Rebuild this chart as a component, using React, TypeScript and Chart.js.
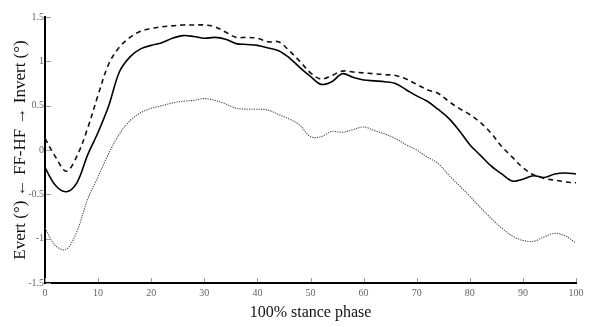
import React, { useEffect, useRef } from "react";
import { Chart, registerables } from "chart.js";

Chart.register(...registerables);

const stancePercent = [
  0, 2, 4, 6, 8, 10, 12, 14, 16, 18, 20, 22, 24, 26, 28, 30, 32, 34, 36, 38, 40,
  42, 44, 46, 48, 50, 52, 54, 56, 58, 60, 62, 64, 66, 68, 70, 72, 74, 76, 78, 80,
  82, 84, 86, 88, 90, 92, 94, 96, 98, 100,
];

const meanValues = [
  -0.2, -0.4, -0.47, -0.37, -0.06, 0.2, 0.5, 0.88, 1.05, 1.14, 1.18, 1.21, 1.26,
  1.29, 1.28, 1.26, 1.27, 1.25, 1.2, 1.19, 1.18, 1.15, 1.12, 1.04, 0.93, 0.83,
  0.74, 0.77, 0.86, 0.82, 0.79, 0.78, 0.77, 0.75, 0.68, 0.61, 0.55, 0.46, 0.36,
  0.22, 0.06, -0.06, -0.18, -0.27, -0.35, -0.33, -0.29, -0.31, -0.27, -0.26, -0.27,
];

const upperValues = [
  0.13, -0.08, -0.24, -0.07, 0.24, 0.62, 0.97, 1.16, 1.27, 1.34, 1.37, 1.39, 1.4,
  1.41, 1.41, 1.41, 1.39, 1.33, 1.27, 1.27, 1.26, 1.22, 1.22, 1.12, 1.0, 0.87,
  0.8, 0.84, 0.89, 0.88, 0.87, 0.86, 0.85, 0.84, 0.8, 0.74, 0.68, 0.64, 0.55,
  0.47, 0.4, 0.31, 0.19, 0.04, -0.08, -0.2, -0.28, -0.32, -0.34, -0.36, -0.37,
];

const lowerValues = [
  -0.88, -1.08, -1.12, -0.92, -0.56, -0.3, -0.04, 0.18, 0.33, 0.42, 0.47, 0.5,
  0.53, 0.55, 0.56, 0.58, 0.56, 0.52, 0.47, 0.46, 0.46, 0.45, 0.4, 0.35, 0.28,
  0.15, 0.15, 0.21, 0.2, 0.23, 0.26, 0.22, 0.18, 0.13, 0.06, 0.0, -0.08, -0.15,
  -0.28, -0.4, -0.52, -0.65, -0.77, -0.88, -0.97, -1.02, -1.03, -0.98, -0.94,
  -0.97, -1.05,
];

const yTickValues = [-1.5, -1, -0.5, 0, 0.5, 1, 1.5];
const yTickLabels = ["-1.5", "-1", "-0.5", "0", "0.5", "1", "1.5"];
const xTickValues = [0, 10, 20, 30, 40, 50, 60, 70, 80, 90, 100];

const toPoints = (ys: number[]) => stancePercent.map((x, i) => ({ x, y: ys[i] }));

const serif = "'Liberation Serif', 'Times New Roman', serif";

const innerTicks = {
  id: "innerTicks",
  afterDraw(chart: any) {
    const { ctx, scales } = chart;
    const xs = scales.x;
    const ys = scales.y;
    ctx.save();
    ctx.strokeStyle = "#999";
    ctx.lineWidth = 1;
    ctx.beginPath();
    xTickValues.forEach((v) => {
      const px = Math.round(xs.getPixelForValue(v)) + 0.5;
      ctx.moveTo(px, ys.bottom - 1);
      ctx.lineTo(px, ys.bottom - 5);
    });
    yTickValues.forEach((v) => {
      const py = Math.round(ys.getPixelForValue(v)) + 0.5;
      ctx.moveTo(xs.left + 1, py);
      ctx.lineTo(xs.left + 6, py);
    });
    ctx.stroke();
    ctx.restore();
  },
};

export default function App() {
  const canvasRef = useRef<HTMLCanvasElement | null>(null);

  useEffect(() => {
    if (!canvasRef.current) return;
    const chart = new Chart(canvasRef.current, {
      type: "line",
      data: {
        datasets: [
          {
            label: "upper",
            data: toPoints(upperValues),
            borderColor: "#111",
            borderWidth: 1.6,
            borderDash: [5, 4],
            pointRadius: 0,
            tension: 0.35,
            fill: false,
          },
          {
            label: "mean",
            data: toPoints(meanValues),
            borderColor: "#000",
            borderWidth: 1.6,
            pointRadius: 0,
            tension: 0.35,
            fill: false,
          },
          {
            label: "lower",
            data: toPoints(lowerValues),
            borderColor: "#444",
            borderWidth: 1.1,
            borderDash: [1.2, 1.2],
            pointRadius: 0,
            tension: 0.35,
            fill: false,
          },
        ],
      },
      options: {
        animation: false,
        responsive: true,
        maintainAspectRatio: false,
        layout: { padding: { top: 17, right: 20, left: 0, bottom: 5 } },
        plugins: {
          legend: { display: false },
          tooltip: { enabled: false },
        },
        scales: {
          x: {
            type: "linear",
            min: 0,
            max: 100,
            afterBuildTicks: (s: any) => {
              s.ticks = xTickValues.map((v) => ({ value: v }));
            },
            afterFit: (s: any) => {
              s.height = 39;
            },
            grid: { display: false, drawTicks: false },
            border: { display: true, color: "#000", width: 2 },
            ticks: {
              color: "#666",
              padding: 4,
              font: { family: serif, size: 10 },
            },
            title: {
              display: true,
              text: "100% stance phase",
              color: "#111",
              padding: { top: 0, bottom: 0 },
              font: { family: serif, size: 16 },
            },
          },
          y: {
            type: "linear",
            min: -1.5,
            max: 1.5,
            afterBuildTicks: (s: any) => {
              s.ticks = yTickValues.map((v) => ({ value: v }));
            },
            afterFit: (s: any) => {
              s.width = 45;
            },
            grid: { display: false, drawTicks: false },
            border: { display: true, color: "#000", width: 2 },
            ticks: {
              color: "#666",
              padding: 1,
              font: { family: serif, size: 10 },
              callback: (v: any) => {
                const i = yTickValues.indexOf(Number(v));
                return i >= 0 ? yTickLabels[i] : "";
              },
            },
            title: {
              display: true,
              text: "Evert (°) ← FF-HF → Invert (°)",
              color: "#111",
              padding: { top: 10, bottom: 0 },
              font: { family: serif, size: 17 },
            },
          },
        },
      },
      plugins: [innerTicks],
    });
    return () => chart.destroy();
  }, []);

  return (
    <div style={{ position: "fixed", left: 0, top: 0, width: 596, height: 327, background: "#fff" }}>
      <canvas ref={canvasRef} />
    </div>
  );
}
